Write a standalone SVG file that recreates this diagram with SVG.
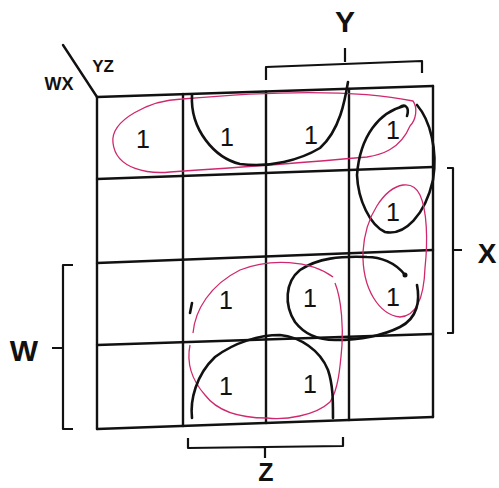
<svg xmlns="http://www.w3.org/2000/svg" width="499" height="488" viewBox="0 0 499 488">
<style>
.g{stroke:#111;stroke-width:2.4;fill:none;stroke-linecap:round}
.br{stroke:#111;stroke-width:2.2;fill:none;stroke-linejoin:round}
.bk{stroke:#111;stroke-width:2.6;fill:none;stroke-linecap:round}
.pk{stroke:#d0286e;stroke-width:1.3;fill:none}
.one{font-family:"Liberation Sans",Arial,sans-serif;font-size:25px;fill:#111;text-anchor:middle}
.lbl{font-family:"Liberation Sans",Arial,sans-serif;font-weight:bold;fill:#111;text-anchor:middle}
</style>
<rect width="499" height="488" fill="#fff"/>
<g id="grid">
<line class="g" x1="97" y1="97" x2="433" y2="86"/>
<line class="g" x1="97" y1="179" x2="433" y2="167"/>
<line class="g" x1="97" y1="263" x2="433" y2="250"/>
<line class="g" x1="97" y1="345" x2="433" y2="334"/>
<line class="g" x1="97" y1="429" x2="433" y2="417"/>
<line class="g" x1="97" y1="97" x2="97" y2="429"/>
<line class="g" x1="183" y1="94" x2="183" y2="426"/>
<line class="g" x1="266" y1="91.5" x2="266" y2="423"/>
<line class="g" x1="349" y1="89" x2="349" y2="420"/>
<line class="g" x1="433" y1="86" x2="433" y2="417"/>
<line class="g" x1="63" y1="45" x2="97" y2="97"/>
</g>
<g id="axis-labels">
<text class="lbl" x="59" y="90" font-size="18">WX</text>
<text class="lbl" x="103" y="72" font-size="17">YZ</text>
</g>
<g id="bracket-Y">
<path class="br" d="M266,80 V67 L422,61 V73 M345,62 V48"/>
<text class="lbl" x="345" y="32" font-size="30">Y</text>
</g>
<g id="bracket-X">
<path class="br" d="M447,168 H453 V333 H447 M453,250 H462"/>
<text class="lbl" x="487" y="263" font-size="28">X</text>
</g>
<g id="bracket-W">
<path class="br" d="M73,265 H63 V429 H73 M63,348 H52"/>
<text class="lbl" x="24" y="361" font-size="30">W</text>
</g>
<g id="bracket-Z">
<path class="br" d="M188,438 V448 L343,446 V437 M265,447 V458"/>
<text class="lbl" x="266" y="481" font-size="25">Z</text>
</g>
<g id="ones">
<text class="one" x="143" y="148">1</text>
<text class="one" x="227" y="146">1</text>
<text class="one" x="311" y="144">1</text>
<text class="one" x="393" y="139">1</text>
<text class="one" x="393" y="221">1</text>
<text class="one" x="226" y="309">1</text>
<text class="one" x="310" y="307">1</text>
<text class="one" x="393" y="306">1</text>
<text class="one" x="226" y="395">1</text>
<text class="one" x="310" y="393">1</text>
</g>
<g id="loops">
<path class="pk" d="M113,143 C110,120 150,100 182,99 C260,92 350,88 413,101 C418,108 416,120 410,126 C400,150 380,155 367,157 C300,163 230,168 170,172 C150,174 116,170 113,143 Z"/>
<path class="bk" d="M192,95 C190,130 215,158 240,164 C270,168 300,160 320,148 C340,130 345,100 348,82"/>
<path class="bk" d="M400,107 C404,104 410,106 407,116 M404,106 C380,112 360,135 357,175 C358,200 370,225 385,232 C405,236 425,215 433,180 C438,150 430,120 417,105"/>
<path class="pk" d="M403,185 C385,188 365,215 363,252 C362,290 380,315 400,317 C418,316 424,295 425,268 C428,240 427,210 420,195 C416,186 410,184 403,185 Z"/>
<path class="bk" d="M405,275 C395,262 380,257 367,257 C340,256 318,258 300,270 C285,282 284,305 295,322 C305,335 320,340 335,340 C355,340 380,337 400,327 C418,318 420,300 417,285"/>
<circle cx="405" cy="275" r="2.5" fill="#111"/>
<path class="pk" d="M193,333 C195,310 210,285 240,270 C270,258 310,260 333,277 M335,283 C342,300 343,330 342,345 C340,370 338,390 330,402 C315,416 285,420 267,418 C240,418 218,412 205,395 C190,378 187,360 190,345"/>
<path class="bk" d="M192,418 C190,400 196,375 215,357 C235,342 260,335 280,335 C300,337 320,350 328,370 C333,385 333,400 333,418"/>
<path class="bk" d="M192,303 L190,313"/>
</g>
</svg>
